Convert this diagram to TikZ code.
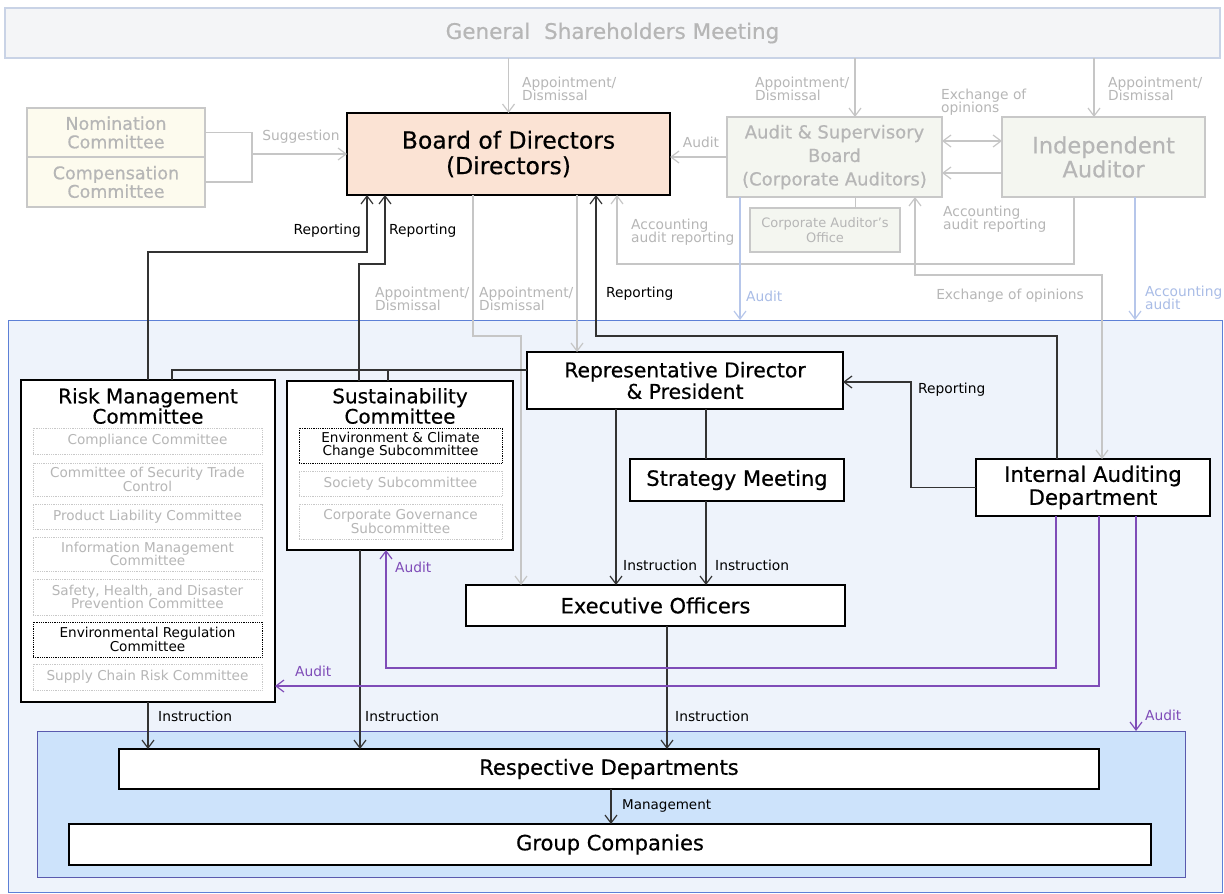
\documentclass[tikz,border=0pt]{standalone}
\usepackage{fontspec}
\setmainfont{DejaVu Sans}
\newfontfamily\boxfont{DejaVu Sans}[FakeBold=0.5]
\usetikzlibrary{arrows.meta}
\definecolor{gsmfill}{HTML}{F4F5F7}
\definecolor{gsmdraw}{HTML}{C9D3E6}
\definecolor{txtgray}{HTML}{B6B6B6}
\definecolor{graydraw}{HTML}{C8C8C8}
\definecolor{nomfill}{HTML}{FDFBEE}
\definecolor{asbfill}{HTML}{F4F6F0}
\definecolor{bodfill}{HTML}{FBE3D4}
\definecolor{mainfill}{HTML}{EEF3FB}
\definecolor{maindraw}{HTML}{5D80D6}
\definecolor{zonefill}{HTML}{CDE3FB}
\definecolor{zonedraw}{HTML}{5A5AAE}
\definecolor{lineblack}{HTML}{333333}
\definecolor{linegray}{HTML}{C6C6C6}
\definecolor{lineblue}{HTML}{B6C6EA}
\definecolor{txtblue}{HTML}{A9BCE6}
\definecolor{linepurple}{HTML}{7F4CB8}
\newcommand{\fs}[2]{\fontsize{#1}{#2}\selectfont}
\newcommand{\bfs}[2]{\boxfont\fontsize{#1}{#2}\selectfont}

\begin{document}
\begin{tikzpicture}[x=1pt, y=-1pt, >={Straight Barb[length=8pt,width=12pt]},
    box/.style={draw=black, line width=2.2pt, fill=white, inner sep=0pt, outer sep=0pt, align=center, text=black},
    gbox/.style={draw=graydraw, line width=2pt, fill=asbfill, inner sep=0pt, outer sep=0pt, align=center, text=txtgray},
    subbox/.style={draw=graydraw, densely dotted, line width=0.8pt, fill=white, inner sep=0pt, outer sep=0pt, align=center, text=txtgray, font=\fs{13.6}{13.3}},
    keybox/.style={subbox, draw=black, text=black},
    lk/.style={draw=lineblack, line width=1.2pt},
    lg/.style={draw=linegray, line width=1.2pt},
    lb/.style={draw=lineblue, line width=1.2pt},
    lp/.style={draw=linepurple, line width=1.2pt},
    lab/.style={font=\fs{13.8}{13.5}, inner sep=0pt, align=left, text=black},
    glab/.style={lab, text=txtgray},
    blab/.style={lab, text=txtblue},
    plab/.style={lab, text=linepurple}]
  \useasboundingbox (0,0) rectangle (1224,894);
  % company area
  \node[draw=maindraw, fill=mainfill, line width=1pt, inner sep=0pt, outer sep=0pt, minimum width=1214pt, minimum height=572pt] (corp) at (615,606) {};
  \node[draw=zonedraw, fill=zonefill, line width=1pt, inner sep=0pt, outer sep=0pt, minimum width=1148pt, minimum height=146pt] (zone) at (611,804) {};
  % upper bodies
  \node[gbox, fill=gsmfill, draw=gsmdraw, minimum width=1215pt, minimum height=50pt, font=\bfs{21.5}{22}] (gsm) at (612.5,33) {General\ \ Shareholders Meeting};
  \node[gbox, fill=nomfill, minimum width=178pt, minimum height=49pt, font=\bfs{17.5}{18.5}] (nom) at (116,132.5) {Nomination\\Committee};
  \node[gbox, fill=nomfill, minimum width=178pt, minimum height=50pt, font=\bfs{17.5}{18.5}] (comp) at (116,182) {Compensation\\Committee};
  \node[box, fill=bodfill, minimum width=323pt, minimum height=82pt, font=\bfs{23.5}{25.5}] (bod) at (508.5,154) {Board of Directors\\(Directors)};
  \node[gbox, minimum width=215pt, minimum height=80pt, font=\bfs{18}{23.5}] (asb) at (834.5,157) {Audit \& Supervisory\\Board\\(Corporate Auditors)};
  \node[gbox, minimum width=203pt, minimum height=80pt, font=\bfs{22.5}{24}] (ia) at (1103.5,157) {Independent\\Auditor};
  \node[gbox, minimum width=150pt, minimum height=44pt, font=\fs{13}{15}] (cao) at (825,230) {Corporate Auditor’s\\Office};
  % committees
  \node[box, minimum width=254pt, minimum height=322pt] (rmc) at (148,541) {};
  \node[font=\bfs{20}{18}, align=center, inner sep=0pt] (rmct) at (148,406) {Risk Management\\Committee};
  \node[subbox, minimum width=229pt, minimum height=26pt] (r1) at (147.5,441) {Compliance Committee};
  \node[subbox, minimum width=229pt, minimum height=33pt] (r2) at (147.5,479.5) {Committee of Security Trade\\Control};
  \node[subbox, minimum width=229pt, minimum height=25pt] (r3) at (147.5,516.5) {Product Liability Committee};
  \node[subbox, minimum width=229pt, minimum height=34pt] (r4) at (147.5,554) {Information Management\\Committee};
  \node[subbox, minimum width=229pt, minimum height=36pt] (r5) at (147.5,597) {Safety, Health, and Disaster\\Prevention Committee};
  \node[keybox, minimum width=229pt, minimum height=35pt] (r6) at (147.5,639.5) {Environmental Regulation\\Committee};
  \node[subbox, minimum width=229pt, minimum height=26pt] (r7) at (147.5,677) {Supply Chain Risk Committee};
  \node[box, minimum width=226pt, minimum height=169pt] (sust) at (400,465.5) {};
  \node[font=\bfs{20}{18}, align=center, inner sep=0pt] (sustt) at (400,406) {Sustainability\\Committee};
  \node[keybox, minimum width=203pt, minimum height=35pt] (s1) at (400.5,445.5) {Environment \& Climate\\Change Subcommittee};
  \node[subbox, minimum width=203pt, minimum height=25pt] (s2) at (400.5,483.5) {Society Subcommittee};
  \node[subbox, minimum width=203pt, minimum height=35pt] (s3) at (400.5,521.5) {Corporate Governance\\Subcommittee};
  % executive side
  \node[box, minimum width=316pt, minimum height=57pt, font=\bfs{20.3}{21.5}] (rep) at (685,380.5) {Representative Director\\\& President};
  \node[box, minimum width=214pt, minimum height=42pt, font=\bfs{21}{22}] (strat) at (737,480) {Strategy Meeting};
  \node[box, minimum width=379pt, minimum height=41pt, font=\bfs{21}{22}] (exec) at (655.5,605.5) {Executive Officers};
  \node[box, minimum width=234pt, minimum height=57pt, font=\bfs{21.3}{23}] (iad) at (1093,487.5) {Internal Auditing\\Department};
  \node[box, minimum width=980pt, minimum height=40pt, font=\bfs{21}{22}] (dept) at (609,769) {Respective Departments};
  \node[box, minimum width=1082pt, minimum height=41pt, font=\bfs{21}{22}] (grp) at (610,844.5) {Group Companies};
  % tap points
  \coordinate (brk) at ([xshift=47pt]nom.east);
  \coordinate (gA) at ([xshift=20.5pt]asb.north);
  \coordinate (gI) at ([xshift=-9.5pt]ia.north);
  \coordinate (exA) at ([yshift=16pt]asb.east);
  \coordinate (acA) at ([yshift=-16pt]ia.west);
  \coordinate (ofc) at ([xshift=21pt]asb.south);
  \coordinate (acI) at ([xshift=-29.5pt]ia.south);
  \coordinate (acB) at ([xshift=108.5pt]bod.south);
  \coordinate (exI) at ([xshift=9pt]iad.north);
  \coordinate (exS) at ([xshift=80.5pt]asb.south);
  \coordinate (auA) at ([xshift=-94.5pt]asb.south);
  \coordinate (auI) at ([xshift=31.5pt]ia.south);
  \coordinate (apB) at ([xshift=-35.5pt]bod.south);
  \coordinate (apE) at ([xshift=-134.5pt]exec.north);
  \coordinate (apR) at ([xshift=68.5pt]bod.south);
  \coordinate (rpI) at ([xshift=-36pt]iad.north);
  \coordinate (rpB) at ([xshift=87.5pt]bod.south);
  \coordinate (rs) at ([xshift=21pt]rep.south);
  \coordinate (ri) at ([xshift=-69pt]rep.south);
  \coordinate (sd) at ([xshift=-40pt]sust.south);
  \coordinate (ed) at ([xshift=11.5pt]exec.south);
  \coordinate (dg) at ([xshift=2pt]dept.south);
  \coordinate (pa) at ([xshift=-37pt]iad.south);
  \coordinate (pb) at ([xshift=6pt]iad.south);
  \coordinate (pc) at ([xshift=43pt]iad.south);
  % shareholders and auditors
  \draw[lg,->] (bod.north |- gsm.south) -- (bod.north);
  \draw[lg,->] (gA |- gsm.south) -- (gA);
  \draw[lg,->] (gI |- gsm.south) -- (gI);
  \draw[lg] (nom.east) -- (brk) |- (comp.east);
  \draw[lg,->] (brk |- bod.west) -- (bod.west);
  \draw[lg,->] (asb.west) -- (asb.west -| bod.east);
  \draw[lg,<->] (exA) -- (exA -| ia.west);
  \draw[lg,->] (acA) -- (acA -| asb.east);
  \draw[lg] (ofc) -- (ofc |- cao.north);
  \draw[lg,->] (acI) |- ([yshift=-69pt]acB) -- (acB);
  \draw[lg,<->] (exS) |- ([yshift=184pt]exI) -- (exI);
  \draw[lb,->] (auA) -- (auA |- corp.north);
  \draw[lb,->] (auI) -- (auI |- corp.north);
  \draw[lg,->] (apB) |- ([yshift=249pt]apE) -- (apE);
  \draw[lg,->] (apR) -- (apR |- rep.north);
  % reporting
  \draw[lk,->] (rmc.north) -- ++(0,-128) -| ([xshift=20pt]bod.south west);
  \draw[lk,->] ([xshift=-41pt]sust.north) -- ++(0,-117) -| ([xshift=38pt]bod.south west);
  \draw[lk,->] (rpI) |- ([yshift=-141pt]rpB) -- (rpB);
  \draw[lk,->] (iad.west) -| ([xshift=68pt,yshift=-1.5pt]rep.east) -- ([yshift=-1.5pt]rep.east);
  \draw[lk] ([yshift=10.5pt]rep.west) -| ([xshift=24pt]rmc.north);
  \draw[lk] ([xshift=-12pt]sust.north) -- ++(0,-11);
  % instruction
  \draw[lk,->] (ri) -- (ri |- exec.north);
  \draw[lk] (rs) -- (rs |- strat.north);
  \draw[lk,->] (rs |- strat.south) -- (rs |- exec.north);
  \draw[lk,->] (rmc.south) -- (rmc.south |- dept.north);
  \draw[lk,->] (sd) -- (sd |- dept.north);
  \draw[lk,->] (ed) -- (ed |- dept.north);
  \draw[lk,->] (dg) -- (dg |- grp.north);
  % internal audit
  \draw[lp,->] (pa) |- ([xshift=-14pt,yshift=-118pt]sust.south) -- ([xshift=-14pt]sust.south);
  \draw[lp,->] (pb) |- ([yshift=-145pt]rmc.east);
  \draw[lp,->] (pc) -- (pc |- zone.north);
  % labels
  \node[glab, anchor=west] (t1) at (522,89) {Appointment/\\Dismissal};
  \node[glab, anchor=west] (t2) at (755,89) {Appointment/\\Dismissal};
  \node[glab, anchor=west] (t3) at (1108,89) {Appointment/\\Dismissal};
  \node[glab] (t4) at (301,137) {Suggestion};
  \node[glab] (t5) at (701,142) {Audit};
  \node[glab, anchor=west] (t6) at (941,102) {Exchange of\\opinions};
  \node[glab, anchor=west] (t7) at (943,219) {Accounting\\audit reporting};
  \node[glab, anchor=west] (t8) at (631,232) {Accounting\\audit reporting};
  \node[glab] (t9) at (1010,296) {Exchange of opinions};
  \node[blab, anchor=west] (t10) at (746,296) {Audit};
  \node[blab, anchor=west] (t11) at (1145,298) {Accounting\\audit};
  \node[glab, anchor=west] (t12) at (375,299) {Appointment/\\Dismissal};
  \node[glab, anchor=west] (t13) at (479,299) {Appointment/\\Dismissal};
  \node[lab, anchor=east] (t14) at (361,231) {Reporting};
  \node[lab, anchor=west] (t15) at (389,231) {Reporting};
  \node[lab, anchor=west] (t16) at (606,294) {Reporting};
  \node[lab, anchor=west] (t17) at (918,390) {Reporting};
  \node[lab, anchor=west] (t18) at (623,565) {Instruction};
  \node[lab, anchor=west] (t19) at (715,565) {Instruction};
  \node[plab, anchor=west] (t20) at (395,567) {Audit};
  \node[plab, anchor=west] (t21) at (295,671) {Audit};
  \node[plab, anchor=west] (t22) at (1145,715) {Audit};
  \node[lab, anchor=west] (t23) at (158,716) {Instruction};
  \node[lab, anchor=west] (t24) at (365,716) {Instruction};
  \node[lab, anchor=west] (t25) at (675,716) {Instruction};
  \node[lab, anchor=west, font=\fs{13.5}{13.5}] (t26) at (622,806) {Management};
\end{tikzpicture}
\end{document}
